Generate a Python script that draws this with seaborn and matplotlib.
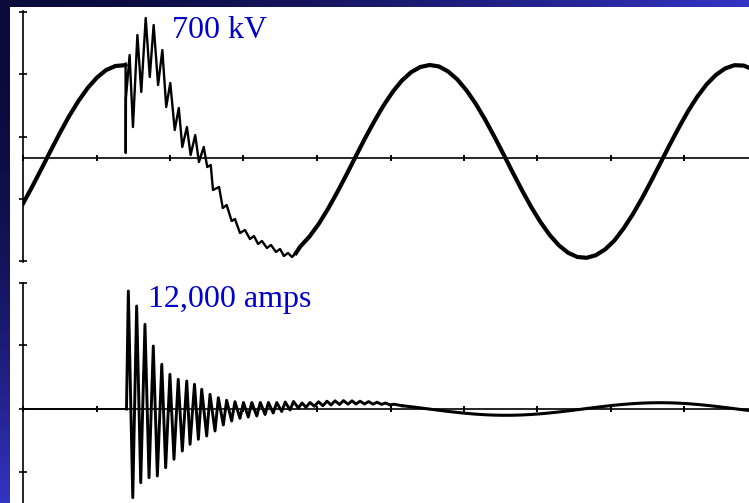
import numpy as np
import pandas as pd
import matplotlib
matplotlib.use("Agg")
import matplotlib.pyplot as plt
import seaborn as sns
from matplotlib.patches import Rectangle

# ---------------- data (time in ms, voltage in kV, current in A) ----------------
v_pre_t = [0.0, 0.5, 1.0, 1.5, 2.0, 2.5, 3.0, 3.5, 4.0, 4.5, 5.0, 5.5, 5.54]
v_pre = [-228, -143, -54, 37, 126, 210, 285, 350, 402, 440, 460, 464, 466]

v_tr_t = [5.54, 5.55, 5.56, 5.57, 5.77, 5.95, 6.19, 6.40, 6.64, 6.86, 7.07, 7.31,
          7.54, 7.75, 7.97, 8.21, 8.43, 8.62, 8.87, 9.07, 9.32, 9.52, 9.78, 9.97,
          10.16, 10.28, 10.61, 10.81, 11.02, 11.29, 11.47, 11.74, 12.01, 12.28,
          12.50, 12.72, 12.93, 13.20, 13.42, 13.69, 13.91, 14.12, 14.34, 14.56, 14.77]
v_tr = [466, 466, 25, 300, 515, 155, 615, 330, 700, 405, 665, 365,
        540, 255, 375, 140, 250, 55, 155, 15, 115, -20, 55, -45,
        -35, -160, -145, -250, -235, -315, -305, -375, -360, -405,
        -390, -430, -415, -450, -435, -470, -455, -490, -475, -495, -475]

v_post_t = [14.77, 15.0, 15.5, 16.0, 16.5, 17.0, 17.5, 18.0, 18.5, 19.0, 19.5,
            20.0, 20.5, 21.0, 21.5, 22.0, 22.5, 23.0, 23.5, 24.0, 24.5, 25.0,
            25.5, 26.0, 26.5, 27.0, 27.5, 28.0, 28.5, 29.0, 29.5, 30.0, 30.5,
            31.0, 31.5, 32.0, 32.5, 33.0, 33.5, 34.0, 34.5, 35.0, 35.5, 36.0,
            36.5, 37.0, 37.5, 38.0, 38.5, 39.0, 39.5]
v_post = [-475, -443, -393, -330, -255, -172, -84, 7, 97, 182, 261,
          330, 387, 429, 455, 465, 458, 433, 393, 338, 271, 193,
          108, 19, -72, -161, -245, -320, -385, -437, -474, -495, -499,
          -486, -457, -413, -352, -281, -201, -114, -24, 67, 154, 236,
          308, 369, 416, 448, 464, 462, 443]

i_pre_t = [0.0, 5.60]
i_pre = [0, 0]

i_tr_t = [5.60, 5.70, 5.94, 6.15, 6.37, 6.60, 6.82, 7.05, 7.27, 7.51,
          7.72, 7.95, 8.17, 8.40, 8.62, 8.86, 9.04, 9.28, 9.49, 9.67,
          9.94, 10.12, 10.39, 10.57, 10.84, 11.02, 11.29, 11.47, 11.74, 11.93,
          12.19, 12.38, 12.65, 12.84, 13.10, 13.28, 13.54, 13.73, 14.00, 14.19,
          14.45, 14.64, 14.90, 15.10, 15.31, 15.53, 15.77, 15.99, 16.23, 16.45,
          16.67, 16.88, 17.13, 17.34, 17.59, 17.80, 18.02, 18.24, 18.48, 18.70,
          18.94, 19.16, 19.40, 19.62, 19.86, 20.08, 20.5]
i_tr = [0, 11800, -8870, 10300, -7370, 8470, -6870, 6300, -6700, 4470,
        -5870, 3470, -5030, 2970, -4200, 2800, -3530, 2470, -3030, 1970,
        -2700, 1470, -2200, 1130, -1600, 870, -1200, 730, -930, 650,
        -800, 650, -700, 650, -550, 650, -400, 650, -250, 700,
        -100, 750, 100, 600, 170, 650, 270, 720, 330, 780,
        400, 820, 450, 840, 480, 820, 500, 780, 500, 740,
        490, 680, 460, 600, 410, 480, 331]

i_post_t = [20.5, 21.0, 21.5, 22.0, 22.5, 23.0, 23.5, 24.0, 24.5, 25.0,
            25.5, 26.0, 26.5, 27.0, 27.5, 28.0, 28.5, 29.0, 29.5, 30.0,
            30.5, 31.0, 31.5, 32.0, 32.5, 33.0, 33.5, 34.0, 34.5, 35.0,
            35.5, 36.0, 36.5, 37.0, 37.5, 38.0, 38.5, 39.0, 39.5]
i_post = [331, 225, 110, -8, -126, -239, -344, -437, -514, -574,
          -612, -629, -624, -597, -548, -480, -395, -296, -187, -71,
          48, 164, 275, 377, 465, 536, 589, 620, 630, 617,
          583, 528, 454, 364, 261, 149, 32, -87, -202]

x_ticks = [0, 3.98, 7.95, 11.93, 15.91, 19.89, 23.86, 27.84, 31.82, 35.79]
v_ticks = [730, 420, 105, -205, -515]
i_ticks = [12600, 6400, 0, -6300]

v_label = "700 kV"
i_label = "12,000 amps"

# ---------------- figure ----------------
W, H = 749, 503
fig = plt.figure(figsize=(W / 100, H / 100), dpi=100)

# slide background (gradient) + white panel
ax_bg = fig.add_axes([0, 0, 1, 1])
ax_bg.set_xlim(0, W)
ax_bg.set_ylim(H, 0)
ax_bg.axis("off")
gx = np.linspace(0, 1, W)[None, :]
gy = np.linspace(0, 1, H)[:, None]
s = np.maximum(gx ** 1.5, gy ** 2.2)
dark = np.array([10, 10, 58]) / 255
bright = np.array([52, 52, 198]) / 255
grad = dark[None, None, :] + (bright - dark)[None, None, :] * s[:, :, None]
ax_bg.imshow(grad, extent=(0, W, H, 0), aspect="auto", zorder=0)
ax_bg.add_patch(Rectangle((10, 7), W - 10, H - 7, facecolor="white",
                          edgecolor="none", zorder=1))

t_max = (W - 23) / 18.48

def style_axes(ax, yticks, ybounds):
    ax.set_facecolor("none")
    ax.set_xlim(0, t_max)
    for sp in ("top", "right"):
        ax.spines[sp].set_visible(False)
    ax.spines["bottom"].set_position(("data", 0))
    ax.spines["bottom"].set_linewidth(1.2)
    ax.spines["left"].set_linewidth(1.2)
    ax.spines["left"].set_bounds(*ybounds)
    ax.spines["bottom"].set_color("black")
    ax.spines["left"].set_color("black")
    ax.set_xticks(x_ticks)
    ax.set_yticks(yticks)
    ax.tick_params(axis="x", direction="inout", length=4, width=1.4,
                   labelbottom=False, color="black")
    ax.tick_params(axis="y", direction="inout", length=6, width=1.2,
                   labelleft=False, color="black")
    ax.set_xlabel("")
    ax.set_ylabel("")
    ax.grid(False)

# top: voltage
ax1 = fig.add_axes([23 / W, 1 - 268 / H, (W - 23) / W, 260 / H])
ax1.set_ylim(-550, 750)
sns.lineplot(x=v_pre_t, y=v_pre, ax=ax1, color="black", lw=3.0,
             sort=False, estimator=None)
sns.lineplot(x=v_tr_t, y=v_tr, ax=ax1, color="black", lw=1.7,
             sort=False, estimator=None)
sns.lineplot(x=v_post_t, y=v_post, ax=ax1, color="black", lw=3.0,
             sort=False, estimator=None)
style_axes(ax1, v_ticks, (-520, 735))

# bottom: current
ax2 = fig.add_axes([23 / W, 0, (W - 23) / W, 225 / H])
ax2.set_ylim(-9400, 13100)
sns.lineplot(x=i_pre_t, y=i_pre, ax=ax2, color="black", lw=1.2,
             sort=False, estimator=None)
sns.lineplot(x=i_tr_t, y=i_tr, ax=ax2, color="black", lw=2.1,
             sort=False, estimator=None)
sns.lineplot(x=i_post_t, y=i_post, ax=ax2, color="black", lw=2.2,
             sort=False, estimator=None)
style_axes(ax2, i_ticks, (-9400, 12600))

# labels
fig.text(172 / W, 1 - 38 / H, v_label, color="#0000CC", fontsize=23,
         family="Liberation Serif", ha="left", va="baseline")
fig.text(148 / W, 1 - 307 / H, i_label, color="#0000CC", fontsize=23,
         family="Liberation Serif", ha="left", va="baseline")

fig.savefig("out.png", dpi=100)
